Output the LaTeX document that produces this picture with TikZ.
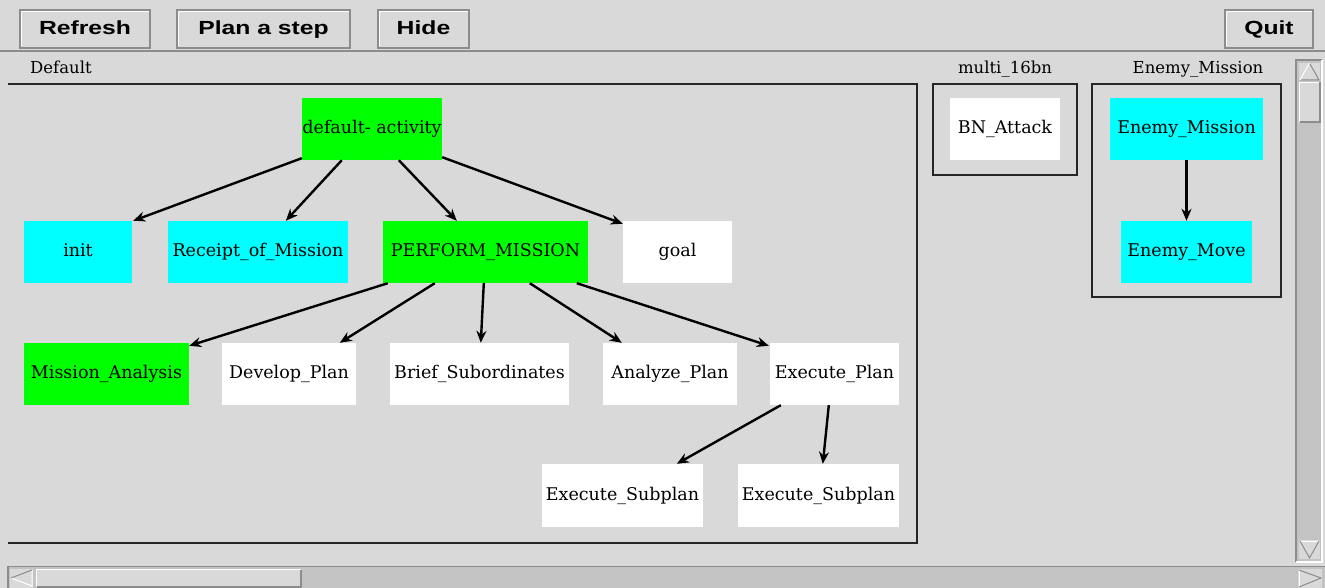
\documentclass[tikz,border=0pt]{standalone}
\usepackage{fontspec}
\setmainfont{DejaVu Serif}
\newfontfamily\btnfont{Liberation Sans Bold}[FakeStretch=1.3]
\usetikzlibrary{arrows.meta}
\definecolor{panelgray}{HTML}{D9D9D9}
\definecolor{troughgray}{HTML}{C3C3C3}
\definecolor{edgegray}{HTML}{8C8C8C}
\definecolor{actgreen}{HTML}{00FF00}
\definecolor{actcyan}{HTML}{00FFFF}
\tikzset{
  task/.style={inner sep=0pt, text height=12.5pt, text depth=3.5pt,
    font=\fontsize{17.5}{20}\selectfont},
  greentask/.style={task, fill=actgreen},
  cyantask/.style={task, fill=actcyan},
  whitetask/.style={task, fill=white},
  edge/.style={line width=2.4pt, -{Stealth[length=12pt,width=10pt]}},
  frame/.style={draw=black!85, line width=1.3pt},
  framelabel/.style={font=\fontsize{16.5}{19}\selectfont, inner sep=0pt},
  btntext/.style={font=\btnfont\fontsize{19}{22}\selectfont, inner sep=0pt, anchor=base},
}
\begin{document}
\begin{tikzpicture}[x=1pt,y=-1pt]
  % window background
  \fill[panelgray] (0,0) rectangle (1325,588);
  \useasboundingbox (0,0) rectangle (1325,588);

  % toolbar buttons
  \foreach \xa/\xb/\lbl/\nm in {20/150/Refresh/bref, 177/350/Plan a step/bplan, 378/469/Hide/bhide, 1225/1313/Quit/bquit}{
    \fill[panelgray] (\xa,10) rectangle (\xb,48);
    \draw[edgegray, line width=1.5pt] (\xa,10) rectangle (\xb,48);
    \draw[white, line width=1.2pt] (\xa+1.5,46.5) -- (\xa+1.5,11.5) -- (\xb-1.5,11.5);
    \node[btntext] (\nm) at ({(\xa+\xb)/2},34.5) {\lbl};
  }
  % toolbar separator
  \draw[edgegray, line width=2pt] (0,51.5) -- (1325,51.5);

  % panel frames and titles
  \node[framelabel, anchor=base west] (tdef) at (30,74) {Default};
  \node[framelabel, anchor=base] (tmulti) at (1005,74) {multi\_16bn};
  \node[framelabel, anchor=base] (tenemy) at (1198,74) {Enemy\_Mission};
  \draw[frame] (8,84) -- (917,84) -- (917,543) -- (8,543);
  \draw[frame] (933,84) rectangle (1077,175);
  \draw[frame] (1092,84) rectangle (1281,297);

  % task nodes
  \node[greentask, minimum width=140pt, minimum height=62pt] (da) at (372,129) {default- activity};
  \node[cyantask, minimum width=108pt, minimum height=62pt] (init) at (78,252) {init};
  \node[cyantask, minimum width=180pt, minimum height=62pt] (rom) at (258,252) {Receipt\_of\_Mission};
  \node[greentask, minimum width=205pt, minimum height=62pt] (pm) at (485.5,252) {PERFORM\_MISSION};
  \node[whitetask, minimum width=109pt, minimum height=62pt] (goal) at (677.5,252) {goal};
  \node[greentask, minimum width=165pt, minimum height=62pt] (ma) at (106.5,374) {Mission\_Analysis};
  \node[whitetask, minimum width=134pt, minimum height=62pt] (dp) at (289,374) {Develop\_Plan};
  \node[whitetask, minimum width=179pt, minimum height=62pt] (bs) at (479.5,374) {Brief\_Subordinates};
  \node[whitetask, minimum width=134pt, minimum height=62pt] (ap) at (670,374) {Analyze\_Plan};
  \node[whitetask, minimum width=129pt, minimum height=62pt] (ep) at (834.5,374) {Execute\_Plan};
  \node[whitetask, minimum width=161pt, minimum height=63pt] (es1) at (622.5,495.5) {Execute\_Subplan};
  \node[whitetask, minimum width=161pt, minimum height=63pt] (es2) at (818.5,495.5) {Execute\_Subplan};
  \node[whitetask, minimum width=110pt, minimum height=62pt] (bn) at (1005,129) {BN\_Attack};
  \node[cyantask, minimum width=153pt, minimum height=62pt] (em) at (1186.5,129) {Enemy\_Mission};
  \node[cyantask, minimum width=131pt, minimum height=62pt] (emv) at (1186.5,252) {Enemy\_Move};

  % connectors
  \draw[edge] ([yshift=2pt]da.south west) -- ([xshift=1pt]init.north east);
  \draw[edge] ([xshift=40pt]da.south west) -- ([xshift=118pt]rom.north west);
  \draw[edge] ([xshift=97pt]da.south west) -- ([xshift=74pt]pm.north west);
  \draw[edge] ([yshift=3pt]da.south east) -- ([yshift=-3pt]goal.north west);
  \draw[edge] ([xshift=5pt]pm.south west) -- ([yshift=-3pt]ma.north east);
  \draw[edge] ([xshift=52pt]pm.south west) -- ([xshift=118pt]dp.north west);
  \draw[edge] ([xshift=101pt]pm.south west) -- ([xshift=91pt]bs.north west);
  \draw[edge] ([xshift=147pt]pm.south west) -- ([xshift=19pt]ap.north west);
  \draw[edge] ([xshift=194pt]pm.south west) -- ([xshift=-1pt,yshift=-3pt]ep.north west);
  \draw[edge] ([xshift=11pt]ep.south west) -- ([xshift=135pt]es1.north west);
  \draw[edge] ([xshift=59pt]ep.south west) -- ([xshift=85pt]es2.north west);
  \draw[edge] (em.south) -- (emv.north);

  % vertical scrollbar
  \fill[troughgray] (1296,60) rectangle (1322,562);
  \draw[edgegray, line width=1.5pt] (1296,562) -- (1296,60) -- (1322,60);
  \draw[white, line width=1.2pt] (1322,60) -- (1322,562) -- (1296,562);
  \fill[panelgray] (1299,63) rectangle (1320,80);
  \draw[edgegray, line width=1pt] (1300,80) -- (1319,80) -- (1309.5,63);
  \draw[white, line width=1pt] (1300,80) -- (1309.5,63);
  \fill[panelgray] (1299,82) rectangle (1320,122);
  \draw[white, line width=1.2pt] (1299.5,122) -- (1299.5,82.5) -- (1320,82.5);
  \draw[edgegray, line width=1.5pt] (1299.5,122) -- (1320,122) -- (1320,82.5);
  \fill[panelgray] (1299,540) rectangle (1320,559);
  \draw[white, line width=1pt] (1300,541) -- (1319,541);
  \draw[edgegray, line width=1pt] (1300,541) -- (1309.5,558) -- (1319,541);

  % horizontal scrollbar
  \fill[troughgray] (8,566) rectangle (1325,588);
  \draw[edgegray, line width=1.5pt] (8,588) -- (8,566.5) -- (1325,566.5);
  \fill[panelgray] (10,569) rectangle (33,588);
  \draw[white, line width=1pt] (32,570) -- (32,586) -- (11,578);
  \draw[edgegray, line width=1pt] (11,578) -- (32,570);
  \fill[panelgray] (36,569) rectangle (301,587);
  \draw[white, line width=1.2pt] (36.5,587) -- (36.5,569.5) -- (301,569.5);
  \draw[edgegray, line width=1.5pt] (36.5,587) -- (301,587) -- (301,569.5);
  \fill[panelgray] (1298,569) rectangle (1322,588);
  \draw[white, line width=1pt] (1299,570) -- (1299,587);
  \draw[edgegray, line width=1pt] (1299,570) -- (1321,578) -- (1299,587);
\end{tikzpicture}
\end{document}
